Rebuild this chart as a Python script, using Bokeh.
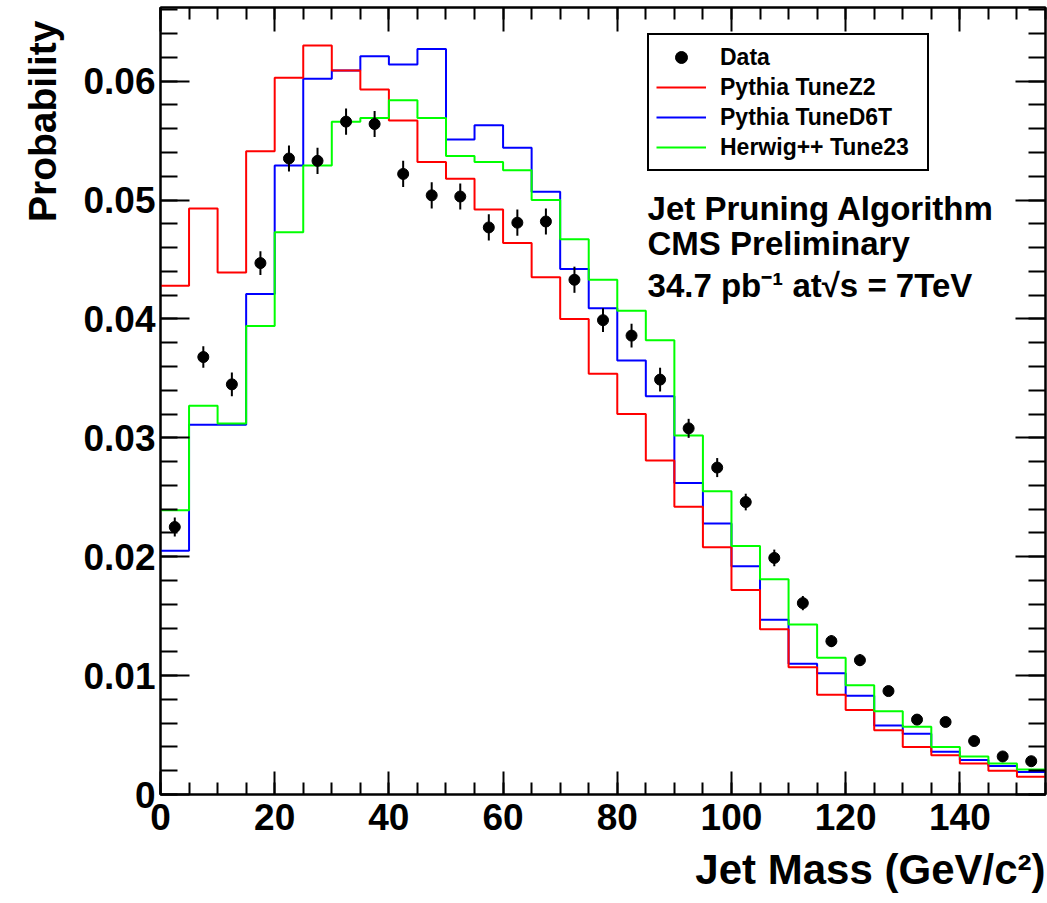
from bokeh.plotting import figure
from bokeh.models import (Range1d, FixedTicker, LinearAxis, Label, Legend, LegendItem,
                          CustomJSTickFormatter, Title)
from bokeh.embed import file_html
from bokeh.resources import INLINE

# ---------------- data ----------------
bin_low = list(range(0, 155, 5))          # 31 bins of 5 GeV/c^2
x_max = 155

data_y = [0.0225, 0.0368, 0.0345, 0.0447, 0.0535, 0.0533, 0.0566, 0.0564, 0.0522, 0.0504,
          0.0503, 0.0477, 0.0481, 0.0482, 0.0433, 0.0399, 0.0386, 0.0349, 0.0308, 0.0275,
          0.0246, 0.0199, 0.0161, 0.0129, 0.0113, 0.0087, 0.0063, 0.0061, 0.0045, 0.0032,
          0.0028]
data_err = [0.0008, 0.0009, 0.0010, 0.0010, 0.0011, 0.0011, 0.0011, 0.0011, 0.0011, 0.0011,
            0.0011, 0.0011, 0.0011, 0.0011, 0.0011, 0.0010, 0.0010, 0.0010, 0.0008, 0.0008,
            0.0007, 0.0007, 0.0006, 0.0005, 0.0005, 0.0004, 0.0004, 0.0004, 0.0003, 0.0003,
            0.0003]
pythia_z2 = [0.0428, 0.0493, 0.0439, 0.0541, 0.0603, 0.0630, 0.0609, 0.0593, 0.0567, 0.0532,
             0.0518, 0.0492, 0.0464, 0.0435, 0.0400, 0.0354, 0.0320, 0.0281, 0.0242, 0.0208,
             0.0172, 0.0139, 0.0107, 0.0084, 0.0071, 0.0054, 0.0040, 0.0033, 0.0026, 0.0020,
             0.0015]
pythia_d6t = [0.0205, 0.0311, 0.0311, 0.0421, 0.0529, 0.0602, 0.0609, 0.0621, 0.0614, 0.0627,
              0.0551, 0.0563, 0.0544, 0.0507, 0.0442, 0.0409, 0.0365, 0.0335, 0.0262, 0.0228,
              0.0192, 0.0147, 0.0110, 0.0102, 0.0083, 0.0058, 0.0051, 0.0036, 0.0029, 0.0024,
              0.0019]
herwig_23 = [0.0239, 0.0327, 0.0312, 0.0394, 0.0473, 0.0529, 0.0566, 0.0569, 0.0584, 0.0569,
             0.0537, 0.0532, 0.0525, 0.0500, 0.0467, 0.0433, 0.0407, 0.0382, 0.0302, 0.0255,
             0.0209, 0.0181, 0.0143, 0.0115, 0.0092, 0.0070, 0.0057, 0.0040, 0.0032, 0.0026,
             0.0021]

x_major = [0, 20, 40, 60, 80, 100, 120, 140]
x_minor = list(range(0, 156, 5))
y_major = [0, 0.01, 0.02, 0.03, 0.04, 0.05, 0.06]
y_minor = [i * 0.002 for i in range(0, 34)]

legend_labels = ["Data", "Pythia TuneZ2", "Pythia TuneD6T", "Herwig++ Tune23"]
info_lines = ["Jet Pruning Algorithm", "CMS Preliminary", "34.7 pb\u207b\u00b9 at\u221as = 7TeV"]
x_title = "Jet Mass (GeV/c\u00b2)"
y_title = "Probability"

# ---------------- derived ----------------
edges = bin_low + [x_max]
centers = [b + 2.5 for b in bin_low]
err_lo = [v - e for v, e in zip(data_y, data_err)]
err_hi = [v + e for v, e in zip(data_y, data_err)]

FONT = "Liberation Sans"

p = figure(width=1047, height=903, x_range=Range1d(0, x_max), y_range=Range1d(0, 0.0662),
           output_backend="svg", toolbar_location=None,
           min_border_left=160, min_border_right=2, min_border_top=7, min_border_bottom=108,
           background_fill_color="white", border_fill_color="white")
p.grid.visible = False
p.outline_line_color = "black"
p.outline_line_width = 2

# axes
p.xaxis.ticker = FixedTicker(ticks=x_major, minor_ticks=x_minor)
p.yaxis.ticker = FixedTicker(ticks=y_major, minor_ticks=y_minor)
p.yaxis.formatter = CustomJSTickFormatter(code="return tick == 0 ? '0' : tick.toFixed(2);")
for ax in [p.xaxis[0], p.yaxis[0]]:
    ax.axis_line_width = 2
    ax.major_tick_line_width = 2
    ax.minor_tick_line_width = 2
    ax.major_tick_out = 0
    ax.minor_tick_out = 0
    ax.major_label_text_font = FONT
    ax.major_label_text_font_style = "bold"
    ax.major_label_text_color = "black"
    ax.major_label_text_font_size = "37px"
p.xaxis.major_tick_in = 23
p.xaxis.minor_tick_in = 12
p.xaxis.major_label_standoff = 9
p.yaxis.major_tick_in = 29
p.yaxis.minor_tick_in = 17
p.yaxis.major_label_standoff = 5

blank = CustomJSTickFormatter(code="return '';")
top_ax = LinearAxis(ticker=FixedTicker(ticks=x_major, minor_ticks=x_minor), formatter=blank,
                    major_label_text_font_size="1px", major_label_standoff=0,
                    major_tick_out=0, minor_tick_out=0, major_tick_in=24, minor_tick_in=12,
                    axis_line_width=2, major_tick_line_width=2, minor_tick_line_width=2)
right_ax = LinearAxis(ticker=FixedTicker(ticks=y_major, minor_ticks=y_minor), formatter=blank,
                      major_label_text_font_size="1px", major_label_standoff=0,
                      major_tick_out=0, minor_tick_out=0, major_tick_in=30, minor_tick_in=17,
                      axis_line_width=2, major_tick_line_width=2, minor_tick_line_width=2)
p.add_layout(top_ax, "above")
p.add_layout(right_ax, "right")

# axis titles (right/top aligned as in ROOT)
p.add_layout(Title(text=x_title, align="right", text_font=FONT, text_font_style="bold",
                   text_font_size="42px", text_color="black", standoff=22), "below")
p.add_layout(Title(text=y_title, align="right", text_font=FONT, text_font_style="bold",
                   text_font_size="39px", text_color="black", standoff=33, offset=13), "left")

# histograms
r_d6t = p.step(edges, pythia_d6t + [pythia_d6t[-1]], mode="after", line_color="#0000ff", line_width=2)
r_z2 = p.step(edges, pythia_z2 + [pythia_z2[-1]], mode="after", line_color="#ff0000", line_width=2)
r_hw = p.step(edges, herwig_23 + [herwig_23[-1]], mode="after", line_color="#00ff00", line_width=2)

# data
p.segment(x0=centers, y0=err_lo, x1=centers, y1=err_hi, line_color="black", line_width=2)
r_data = p.scatter(centers, data_y, size=11, marker="circle", fill_color="black", line_color="black")

legend = Legend(items=[LegendItem(label=legend_labels[0], renderers=[r_data]),
                       LegendItem(label=legend_labels[1], renderers=[r_z2]),
                       LegendItem(label=legend_labels[2], renderers=[r_d6t]),
                       LegendItem(label=legend_labels[3], renderers=[r_hw])],
                location=(487, 623), orientation="vertical",
                label_text_font=FONT, label_text_font_style="bold", label_text_font_size="23px",
                label_text_color="black", label_standoff=14, label_height=30, label_width=200,
                glyph_width=50, glyph_height=30, spacing=0, padding=7,
                border_line_color="black", border_line_width=2, border_line_alpha=1.0,
                background_fill_color="white", background_fill_alpha=1.0)
p.add_layout(legend)

# info text
info_y = [0.04931, 0.04637, 0.04285]
for txt, yy in zip(info_lines, info_y):
    p.add_layout(Label(x=85.3, y=yy, text=txt, text_font=FONT, text_font_style="bold",
                       text_font_size="33px", text_color="black", text_baseline="alphabetic",
                       text_align="left"))

open("out.html", "w").write(file_html(p, INLINE))
